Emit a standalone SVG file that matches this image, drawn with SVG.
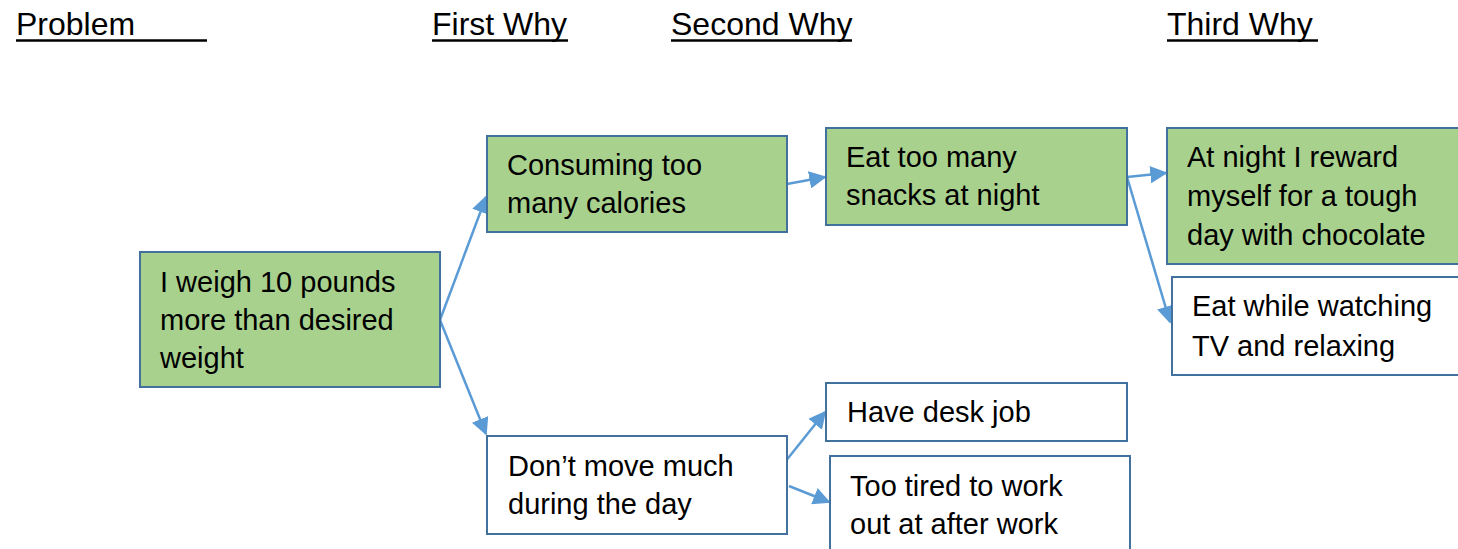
<svg xmlns="http://www.w3.org/2000/svg" width="1458" height="549" viewBox="0 0 1458 549">
<style>
.h{font-family:"Liberation Sans",Arial,sans-serif;font-size:32px;fill:#000}
.t{font-family:"Liberation Sans",Arial,sans-serif;font-size:29px;fill:#000}
.g{fill:#a9d18e;stroke:#41719c;stroke-width:2}
.w{fill:#fff;stroke:#41719c;stroke-width:2}
.c{stroke:#5b9bd5;stroke-width:2.5;fill:none;marker-end:url(#ah)}
.u{stroke:#000;stroke-width:2.5}
</style>
<defs>
<marker id="ah" viewBox="0 0 10 10" refX="9" refY="5" markerWidth="7" markerHeight="7" markerUnits="strokeWidth" orient="auto">
<path d="M0,0 L10,5 L0,10 z" fill="#5b9bd5"/>
</marker>
</defs>
<rect width="1458" height="549" fill="#fff"/>
<g id="headings">
<text class="h" x="16" y="35">Problem</text><line class="u" x1="16" y1="40.5" x2="207" y2="40.5"/>
<text class="h" x="432" y="35">First Why</text><line class="u" x1="432" y1="40.5" x2="568" y2="40.5"/>
<text class="h" x="671" y="35">Second Why</text><line class="u" x1="671" y1="40.5" x2="852" y2="40.5"/>
<text class="h" x="1167" y="35">Third Why</text><line class="u" x1="1167" y1="40.5" x2="1318" y2="40.5"/>
</g>
<g id="connectors">
<path class="c" d="M440,320 L486,197"/>
<path class="c" d="M440,320 L486,434"/>
<path class="c" d="M787,184 L825,177"/>
<path class="c" d="M1127,177 L1166,173"/>
<path class="c" d="M1127,177 L1170,322"/>
<path class="c" d="M785,462 L825,412"/>
<path class="c" d="M789,486 L829,502"/>
</g>
<g id="problem">
<rect class="g" x="140" y="252" width="300" height="135"/>
<text class="t" x="160" y="292">I weigh 10 pounds</text>
<text class="t" x="160" y="330">more than desired</text>
<text class="t" x="160" y="368">weight</text>
</g>
<g id="consuming">
<rect class="g" x="487" y="136" width="300" height="96"/>
<text class="t" x="507" y="175">Consuming too</text>
<text class="t" x="507" y="213">many calories</text>
</g>
<g id="snacks">
<rect class="g" x="826" y="128" width="301" height="97"/>
<text class="t" x="846" y="167">Eat too many</text>
<text class="t" x="846" y="205">snacks at night</text>
</g>
<g id="reward">
<rect class="g" x="1167" y="128" width="300" height="136"/>
<text class="t" x="1187" y="167">At night I reward</text>
<text class="t" x="1187" y="206">myself for a tough</text>
<text class="t" x="1187" y="245">day with chocolate</text>
</g>
<g id="tv">
<rect class="w" x="1172" y="277" width="300" height="98"/>
<text class="t" x="1192" y="316">Eat while watching</text>
<text class="t" x="1192" y="356">TV and relaxing</text>
</g>
<g id="desk">
<rect class="w" x="826" y="383" width="301" height="58"/>
<text class="t" x="847" y="422">Have desk job</text>
</g>
<g id="move">
<rect class="w" x="487" y="436" width="300" height="98"/>
<text class="t" x="508" y="476">Don’t move much</text>
<text class="t" x="508" y="514">during the day</text>
</g>
<g id="tired">
<rect class="w" x="830" y="456" width="300" height="100"/>
<text class="t" x="850" y="496">Too tired to work</text>
<text class="t" x="850" y="534">out at after work</text>
</g>
</svg>
